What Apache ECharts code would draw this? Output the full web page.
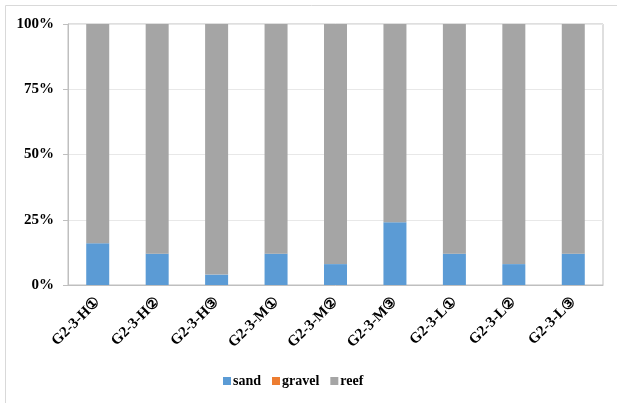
<!DOCTYPE html>
<html><head><meta charset="utf-8">
<script src="https://cdn.jsdelivr.net/npm/echarts@6/dist/echarts.min.js"></script>
<style>html,body{margin:0;padding:0;background:#fff}#c{width:617px;height:403px}</style>
</head><body><div id="c"></div>
<script>
const categories = ['G2-3-H①','G2-3-H②','G2-3-H③','G2-3-M①','G2-3-M②','G2-3-M③','G2-3-L①','G2-3-L②','G2-3-L③'];
const sand = [16, 12, 4, 12, 8, 24, 12, 8, 12];
const gravel = [0, 0, 0, 0, 0, 0, 0, 0, 0];
const reef = [84, 88, 96, 88, 92, 76, 88, 92, 88];
const yTicks = [0, 25, 50, 75, 100];

const font = '"Liberation Serif","Times New Roman",serif';
const chart = echarts.init(document.getElementById('c'), null, {renderer:'canvas'});
const mk = (name, data, color) => ({
  name, type:'bar', stack:'a', data, barWidth:23,
  itemStyle:{color}
});
chart.setOption({
  animation:false,
  graphic:[{type:'rect', shape:{x:5.5,y:5.5,width:640,height:420}, style:{fill:'none',stroke:'#d9d9d9',lineWidth:1}, silent:true, z:-1}],
  grid:{left:68, right:14, top:24, bottom:118, show:true, borderColor:'#bfbfbf', borderWidth:1},
  legend:{bottom:10, left:218, itemWidth:8, itemHeight:8, itemGap:11, icon:'rect',
    textStyle:{fontFamily:font, fontWeight:'bold', fontSize:14, color:'#000', padding:[0,0,0,-3]},
    data:['sand','gravel','reef']},
  xAxis:{type:'category', data:categories,
    axisLine:{lineStyle:{color:'#bfbfbf'}}, axisTick:{show:false},
    axisLabel:{rotate:45, interval:0, margin:15, fontFamily:font, fontWeight:'bold', fontSize:15, color:'#000'}},
  yAxis:{type:'value', min:yTicks[0], max:yTicks[yTicks.length-1], interval:25,
    axisLine:{show:true, lineStyle:{color:'#bfbfbf'}},
    axisTick:{show:true, length:5, lineStyle:{color:'#bfbfbf'}},
    splitLine:{lineStyle:{color:'#e8e8e8'}},
    axisLabel:{formatter:v=>v+'%', margin:14, fontFamily:font, fontWeight:'bold', fontSize:15, color:'#000'}},
  series:[mk('sand', sand, '#5b9bd5'), mk('gravel', gravel, '#ed7d31'), mk('reef', reef, '#a5a5a5')]
});
</script></body></html>
